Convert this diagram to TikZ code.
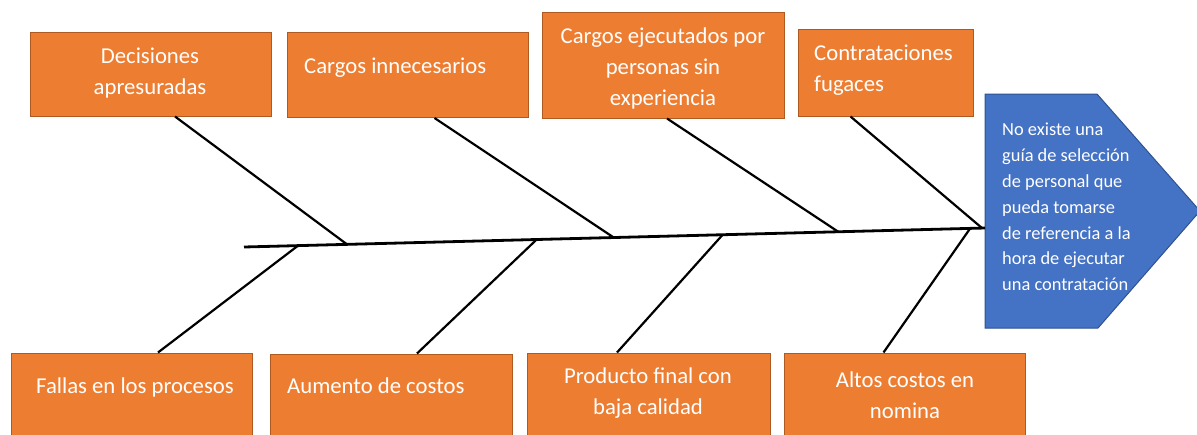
\documentclass[tikz,border=0pt]{standalone}
\usepackage{fontspec}
\setmainfont{Carlito}
\usetikzlibrary{calc}
\definecolor{orfill}{HTML}{ED7D31}
\definecolor{ordraw}{HTML}{AE5A21}
\definecolor{blfill}{HTML}{4472C4}
\definecolor{bldraw}{HTML}{2F528F}
\tikzset{
  obox/.style={draw=ordraw, fill=orfill, line width=1pt, inner sep=0pt},
  otext/.style={text=white, font=\fontsize{22.7}{31}\selectfont, inner sep=0pt},
  btext/.style={text=white, font=\fontsize{18.4}{25.8}\selectfont, inner sep=0pt, align=left},
  bone/.style={line width=2.2pt, black},
  spine/.style={line width=2.8pt, black}
}
\begin{document}
\begin{tikzpicture}[x=1pt,y=-1pt]
\useasboundingbox (0,0) rectangle (1197,434);
% top boxes
\node[obox, minimum width=241pt, minimum height=84pt] (b1) at (150.5,74) {};
\node[otext, align=center] (t1) at (150,73) {Decisiones\\apresuradas};
\node[obox, minimum width=241pt, minimum height=85pt] (b2) at (407.5,75) {};
\node[otext, anchor=base west] (t2) at (304,73) {Cargos innecesarios};
\node[obox, minimum width=242pt, minimum height=106pt] (b3) at (663,65) {};
\node[otext, align=center] (t3) at (663,68) {Cargos ejecutados por\\personas sin\\experiencia};
\node[obox, minimum width=175pt, minimum height=87pt] (b4) at (885.5,72.5) {};
\node[otext, align=left, anchor=west] (t4) at (814,70) {Contrataciones\\fugaces};
% bottom boxes
\node[obox, minimum width=241pt, minimum height=90pt] (b5) at (132,398) {};
\node[otext, anchor=base west] (t5) at (36,393) {Fallas en los procesos};
\node[obox, minimum width=242pt, minimum height=90pt] (b6) at (391,399) {};
\node[otext, anchor=base west] (t6) at (287,393) {Aumento de costos};
\node[obox, minimum width=243pt, minimum height=90pt] (b7) at (648.5,398) {};
\node[otext, align=center] (t7) at (648,393) {Producto final con\\baja calidad};
\node[obox, minimum width=241pt, minimum height=90pt] (b8) at (904.5,398) {};
\node[otext, align=center] (t8) at (905,395) {Altos costos en\\nomina};
% problem head
\path[fill=blfill, draw=bldraw, line width=1pt] (985,94) -- (1097,94) -- (1200,211) -- (1098,328) -- (985,328) -- cycle;
\node[btext, anchor=north west] (p) at (1002,123) {No existe una\\gu\'ia de selecci\'on\\de personal que\\pueda tomarse\\de referencia a la\\hora de ejecutar\\una contrataci\'on};
% spine
\coordinate (sp0) at (244,247);
\coordinate (sp1) at (985,228);
\draw[spine] (sp0) -- (sp1);
\coordinate (s1) at ($(sp0)!0.139!(sp1)$);
\coordinate (s2) at ($(sp0)!0.499!(sp1)$);
\coordinate (s3) at ($(sp0)!0.802!(sp1)$);
\coordinate (s4) at ($(sp0)!0.996!(sp1)$);
\coordinate (s5) at ($(sp0)!0.073!(sp1)$);
\coordinate (s6) at ($(sp0)!0.395!(sp1)$);
\coordinate (s7) at ($(sp0)!0.646!(sp1)$);
\coordinate (s8) at ($(sp0)!0.980!(sp1)$);
% bones
\draw[bone] ([xshift=24.5pt]b1.south) -- (s1);
\draw[bone] ([xshift=27pt]b2.south) -- (s2);
\draw[bone] ([xshift=4pt]b3.south) -- (s3);
\draw[bone] ([xshift=-35pt]b4.south) -- (s4);
\draw[bone] ([xshift=26pt]b5.north) -- (s5);
\draw[bone] ([xshift=26pt]b6.north) -- (s6);
\draw[bone] ([xshift=-31.5pt]b7.north) -- (s7);
\draw[bone] ([xshift=-21pt]b8.north) -- (s8);
\end{tikzpicture}
\end{document}
